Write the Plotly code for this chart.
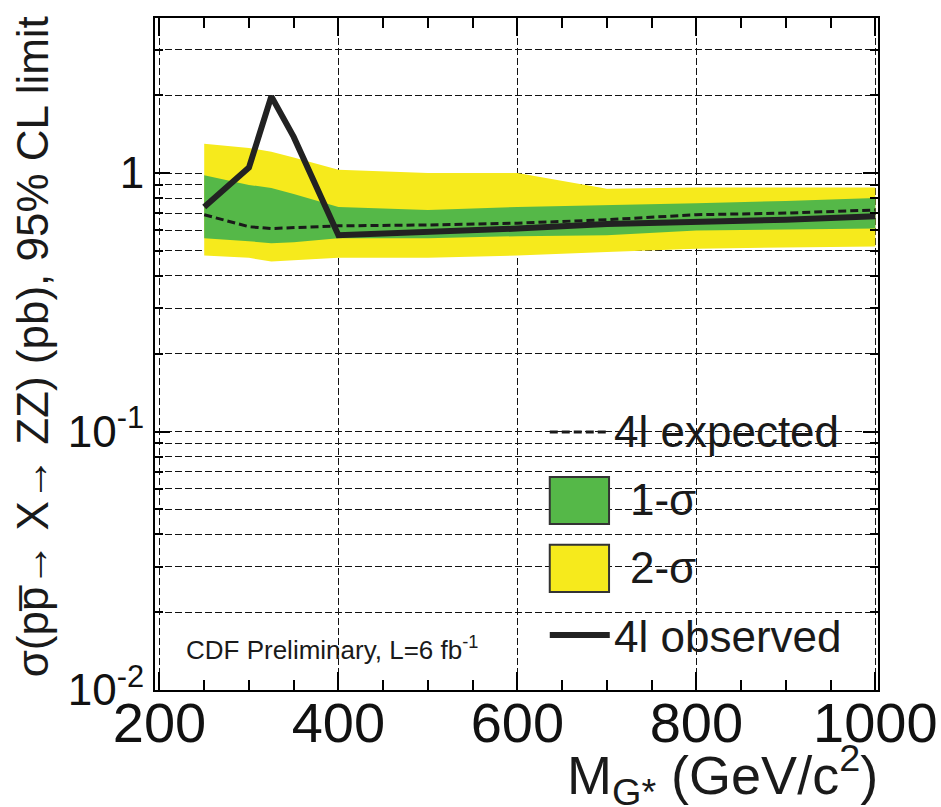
import plotly.graph_objects as go

# ---- data ----
mass = [250, 300, 325, 350, 400, 500, 600, 700, 800, 900, 1000]
expected = [0.69, 0.62, 0.61, 0.615, 0.625, 0.63, 0.64, 0.66, 0.69, 0.70, 0.72]
observed = [0.74, 1.05, 1.98, 1.38, 0.575, 0.59, 0.61, 0.635, 0.645, 0.66, 0.68]
sig1_up = [0.98, 0.90, 0.875, 0.83, 0.74, 0.72, 0.74, 0.75, 0.765, 0.78, 0.80]
sig1_dn = [0.56, 0.545, 0.535, 0.54, 0.56, 0.56, 0.57, 0.575, 0.60, 0.605, 0.61]
sig2_up = [1.30, 1.25, 1.21, 1.15, 1.03, 1.0, 1.0, 0.87, 0.88, 0.88, 0.88]
sig2_dn = [0.48, 0.47, 0.455, 0.46, 0.47, 0.47, 0.48, 0.495, 0.51, 0.515, 0.52]

x_ticks = [200, 400, 600, 800, 1000]
y_ticks = [0.01, 0.1, 1]
y_tick_text = ["10<sup>-2</sup>", "10<sup>-1</sup>", "1"]
y_minor = [k * 10 ** e for e in (-2, -1, 0) for k in range(2, 10)]

GREEN = "#55b848"
YELLOW = "#f6ea1c"
SANS = "Liberation Sans, Arial, Helvetica, sans-serif"
GRID_DASH = "7px,3px"

fig = go.Figure()
fig.add_trace(go.Scatter(x=mass + mass[::-1], y=sig2_up + sig2_dn[::-1], fill="toself",
                         fillcolor=YELLOW, line=dict(width=0), mode="lines",
                         hoverinfo="skip", showlegend=False))
fig.add_trace(go.Scatter(x=mass + mass[::-1], y=sig1_up + sig1_dn[::-1], fill="toself",
                         fillcolor=GREEN, line=dict(width=0), mode="lines",
                         hoverinfo="skip", showlegend=False))
fig.add_trace(go.Scatter(x=mass, y=expected, mode="lines",
                         line=dict(color="#1a1a1a", width=3, dash="8px,4px"),
                         showlegend=False))
fig.add_trace(go.Scatter(x=mass, y=observed, mode="lines",
                         line=dict(color="#222222", width=6), showlegend=False))

axis_common = dict(showline=True, linecolor="black", linewidth=2, mirror="allticks",
                   ticks="inside", tickcolor="black", zeroline=False, automargin=False)

fig.update_xaxes(**axis_common, range=[195, 1003], tickvals=x_ticks, ticklen=18, tickwidth=2,
                 tickfont=dict(family=SANS, size=56, color="#111"),
                 ticklabeloverflow="allow", ticklabelstandoff=-17,
                 showgrid=True, gridcolor="#111", gridwidth=1, griddash=GRID_DASH,
                 minor=dict(dtick=50, ticklen=10, tickwidth=2, tickcolor="black",
                            ticks="inside", showgrid=False))
fig.update_yaxes(**axis_common, type="log", range=[-2, 0.6], tickvals=y_ticks,
                 ticktext=y_tick_text, ticklen=15, tickwidth=2,
                 tickfont=dict(family=SANS, size=44, color="#111"),
                 showgrid=True, gridcolor="#111", gridwidth=1, griddash=GRID_DASH,
                 minor=dict(tickvals=y_minor, ticklen=8, tickwidth=2, tickcolor="black",
                            ticks="inside", showgrid=True, gridcolor="#111", gridwidth=1,
                            griddash=GRID_DASH))

# legend drawn as layout shapes and annotations
shapes = [
    dict(type="rect", xref="paper", yref="paper", x0=0.532, x1=0.992, y0=0.03, y1=0.43,
         fillcolor="white", line=dict(width=0), layer="between"),
    dict(type="line", xref="paper", yref="paper", x0=0.546, x1=0.629, y0=0.384, y1=0.384,
         line=dict(color="#1a1a1a", width=3, dash="8px,4px")),
    dict(type="rect", xref="paper", yref="paper", x0=0.546, x1=0.628, y0=0.247, y1=0.317,
         fillcolor=GREEN, line=dict(color="#333", width=2)),
    dict(type="rect", xref="paper", yref="paper", x0=0.546, x1=0.628, y0=0.146, y1=0.216,
         fillcolor=YELLOW, line=dict(color="#333", width=2)),
    dict(type="line", xref="paper", yref="paper", x0=0.546, x1=0.629, y0=0.082, y1=0.082,
         line=dict(color="#222222", width=6)),
]
legend_font = dict(family=SANS, size=44, color="#1a1a1a")
annotations = [
    dict(text="4l expected", x=0.632, y=0.384, xanchor="left", yanchor="middle", font=legend_font),
    dict(text="1-σ", x=0.654, y=0.283, xanchor="left", yanchor="middle", font=legend_font),
    dict(text="2-σ", x=0.654, y=0.182, xanchor="left", yanchor="middle", font=legend_font),
    dict(text="4l observed", x=0.632, y=0.079, xanchor="left", yanchor="middle", font=legend_font),
    dict(text="CDF Preliminary, L=6 fb<sup>-1</sup>", x=0.040, y=0.0625, xanchor="left",
         yanchor="middle", font=dict(family=SANS, size=26, color="#1a1a1a")),
    dict(text="M<sub>G*</sub> (GeV/c<sup>2</sup>)", x=1.003, y=-0.127, xanchor="right",
         yanchor="middle", font=dict(family=SANS, size=54, color="#1a1a1a")),
    dict(text="σ(pp\u0305→ X→ ZZ) (pb), 95% CL limit", x=-0.17, y=0.51, textangle=-90,
         xanchor="center", yanchor="middle", font=dict(family=SANS, size=44, color="#1a1a1a")),
]
for a in annotations:
    a.update(xref="paper", yref="paper", showarrow=False)

fig.update_layout(width=941, height=807, margin=dict(l=155, r=63, t=18, b=117),
                  plot_bgcolor="white", paper_bgcolor="white", showlegend=False,
                  shapes=shapes, annotations=annotations)

fig.write_html("out.html", config={"displayModeBar": False},
               post_script="document.body.style.margin='0px';document.body.style.overflow='hidden';")
